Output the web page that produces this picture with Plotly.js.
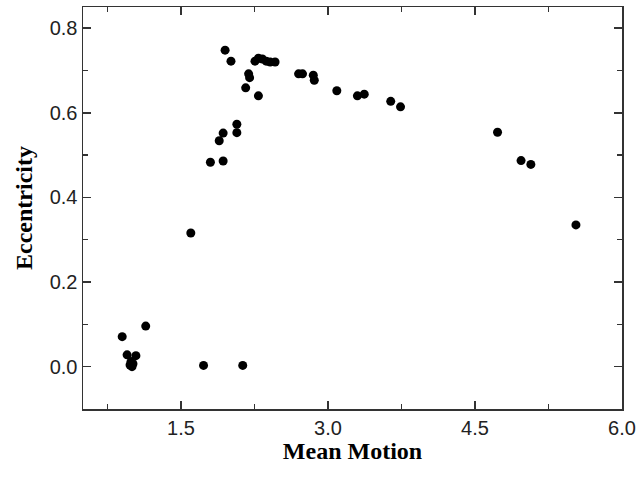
<!DOCTYPE html>
<html>
<head>
<meta charset="utf-8">
<script src="https://cdn.plot.ly/plotly-3.0.1.min.js"></script>
<style>
  html, body { margin: 0; padding: 0; background: #fff; }
  #chart { width: 639px; height: 478px; }
</style>
</head>
<body>
<div id="chart"></div>
<script>
// Mean motion (x) and eccentricity (y) values
const meanMotion = [
  0.90, 1.14, 0.95, 1.04, 0.98, 1.00, 1.01, 0.99,
  1.73, 2.13, 1.60,
  1.80, 1.93, 1.89, 1.93, 2.07, 2.07,
  1.95, 2.01, 2.16, 2.29, 2.19, 2.20,
  2.255, 2.29, 2.33, 2.37, 2.41, 2.46,
  2.70, 2.74, 2.85, 2.86,
  3.09, 3.30, 3.37, 3.64, 3.74,
  4.73, 4.97, 5.07, 5.53
];
const eccentricity = [
  0.071, 0.096, 0.028, 0.026, 0.004, 0.000, 0.007, 0.012,
  0.003, 0.003, 0.316,
  0.483, 0.486, 0.534, 0.552, 0.573, 0.553,
  0.748, 0.722, 0.659, 0.640, 0.692, 0.683,
  0.722, 0.729, 0.727, 0.722, 0.720, 0.720,
  0.692, 0.692, 0.689, 0.677,
  0.652, 0.640, 0.644, 0.627, 0.614,
  0.554, 0.487, 0.478, 0.335
];

const xTitle = "Mean Motion";
const yTitle = "Eccentricity";

const tickFont = { family: "Liberation Sans, Arial, sans-serif", size: 20, color: "#222" };
const titleFont = { family: "Liberation Serif, Times New Roman, serif", size: 24, color: "#000", weight: "bold" };

const trace = {
  x: meanMotion,
  y: eccentricity,
  type: "scatter",
  mode: "markers",
  marker: { color: "#000", size: 9 },
  hoverinfo: "skip"
};

const layout = {
  width: 639,
  height: 478,
  margin: { l: 83, r: 17, t: 7, b: 69 },
  paper_bgcolor: "#fff",
  plot_bgcolor: "#fff",
  showlegend: false,
  xaxis: {
    range: [0.5, 6.0],
    tick0: 0,
    dtick: 1.5,
    tickformat: ".1f",
    ticks: "inside",
    ticklen: 8,
    tickwidth: 1.5,
    tickcolor: "#333",
    minor: { dtick: 0.75, tick0: 0, ticks: "inside", ticklen: 5, tickwidth: 1.5, tickcolor: "#333" },
    showline: true,
    linecolor: "#333",
    linewidth: 1.5,
    mirror: "ticks",
    showgrid: false,
    zeroline: false,
    tickfont: tickFont,
    title: { text: "<b>" + xTitle + "</b>", font: titleFont, standoff: 3 }
  },
  yaxis: {
    range: [-0.1, 0.85],
    tick0: 0,
    dtick: 0.2,
    tickformat: ".1f",
    ticks: "inside",
    ticklen: 8,
    tickwidth: 1.5,
    tickcolor: "#333",
    minor: { dtick: 0.1, tick0: 0, ticks: "inside", ticklen: 5, tickwidth: 1.5, tickcolor: "#333" },
    showline: true,
    linecolor: "#333",
    linewidth: 1.5,
    mirror: "ticks",
    showgrid: false,
    zeroline: false,
    tickfont: tickFont,
    title: { text: "<b>" + yTitle + "</b>", font: titleFont, standoff: 10 }
  }
};

Plotly.newPlot("chart", [trace], layout, { staticPlot: true, displayModeBar: false });
</script>
</body>
</html>
